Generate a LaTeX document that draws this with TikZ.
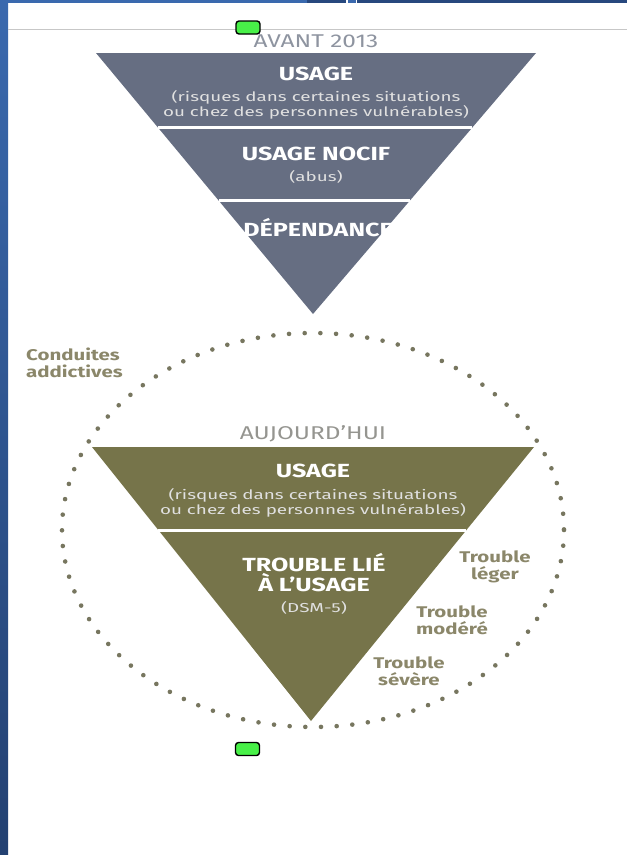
\documentclass[tikz,border=0pt]{standalone}
\usepackage{fontspec}
\setmainfont{Fira Sans}[FakeStretch=1.32]
\newfontfamily\notefont{Fira Sans}[FakeStretch=1.45]
\usetikzlibrary{calc,positioning}
\definecolor{slate}{HTML}{666E82}
\definecolor{khaki}{HTML}{76744A}
\definecolor{labelgrey}{HTML}{8B876A}
\definecolor{dotgrey}{HTML}{77765F}
\definecolor{eragrey}{HTML}{8E94A0}
\definecolor{todaygrey}{HTML}{959590}
\definecolor{frameblue}{HTML}{3A69AE}
\definecolor{framedark}{HTML}{27487E}
\definecolor{markergreen}{HTML}{48F048}
\tikzset{
    heading/.style = {
        font=\bfseries\fontsize{19}{20}\selectfont,
        text=white,
        inner sep=0pt,
        anchor=base,
        },
    note/.style = {
        font=\notefont\fontsize{13}{15}\selectfont,
        text=white!88!black,
        align=center,
        inner sep=0pt,
        anchor=base,
        },
    era/.style = {
        font=\fontsize{18.5}{20}\selectfont,
        inner sep=0pt,
        anchor=base,
        },
    side label/.style = {
        font=\bfseries\fontsize{15.5}{17}\selectfont,
        text=labelgrey,
        align=center,
        inner sep=0pt,
        anchor=base,
        },
    gap/.style = {
        draw=white,
        line width=3pt,
        },
    dots/.style = {
        draw=dotgrey,
        line width=4.6pt,
        line cap=round,
        dash pattern=on 0pt off 15.69pt,
        },
    marker/.style = {
        draw=black,
        line width=1.4pt,
        fill=markergreen,
        rounded corners=3pt,
        minimum width=24pt,
        minimum height=13pt,
        inner sep=0pt,
        },
}
\begin{document}
\begin{tikzpicture}[x=1pt,y=-1pt]
    \useasboundingbox (0,0) rectangle (627,855);
    % frame
    \shade[top color=frameblue, bottom color=framedark!90!black] (0,0) rectangle (8,855);
    \fill[frameblue] (0,0) rectangle (307,3);
    \fill[framedark] (307,0) rectangle (346,3);
    \fill[frameblue] (348,0) rectangle (356,3);
    \fill[framedark] (357,0) rectangle (627,3);
    \draw[black!22, line width=1pt] (8,29) -- (627,29);

    % avant 2013
    \coordinate (t1) at (96,53);
    \coordinate (t2) at (536,53);
    \coordinate (t3) at (313,314);
    \fill[slate] (t1) -- (t2) -- (t3) -- cycle;
    \draw[gap] ($(t1)!0.287!(t3)$) -- ($(t2)!0.287!(t3)$);
    \draw[gap] ($(t1)!0.567!(t3)$) -- ($(t2)!0.567!(t3)$);

    \node[era, text=eragrey] (avant) at (316,47) {AVANT 2013};
    \node[heading] (usage1) at (316,80) {USAGE};
    \node[note] (risk1) at (316,116) {(risques dans certaines situations\\ou chez des personnes vulnérables)};
    \node[heading] (nocif) at (316,160) {USAGE NOCIF};
    \node[note] (abus) at (316,181) {(abus)};
    \node[heading] (dep) at (318,236) {DÉPENDANCE};

    % aujourd'hui
    \draw[dots] (313,530) ellipse [x radius=251, y radius=197];
    \coordinate (b1) at (92,447);
    \coordinate (b2) at (534,447);
    \coordinate (b3) at (311,721);
    \fill[khaki] (b1) -- (b2) -- (b3) -- cycle;
    \draw[gap] ($(b1)!0.303!(b3)$) -- ($(b2)!0.303!(b3)$);

    \node[era, text=todaygrey] (today) at (313,439) {AUJOURD’HUI};
    \node[heading] (usage2) at (313,477) {USAGE};
    \node[note] (risk2) at (313,514) {(risques dans certaines situations\\ou chez des personnes vulnérables)};
    \node[heading, align=center] (trouble) at (314,591) {TROUBLE LIÉ\\À L’USAGE};
    \node[note] (dsm) at (314,612) {(DSM-5)};

    \node[side label] (leger) at (495,579) {Trouble\\léger};
    \node[side label] (modere) at (452,634) {Trouble\\modéré};
    \node[side label] (severe) at (409,685) {Trouble\\sévère};
    \node[side label, align=left, anchor=base west] (addict) at (26,377) {Conduites\\addictives};

    \node[marker] (top mark) at (248,27.5) {};
    \node[marker] (bottom mark) at (247.5,749) {};
\end{tikzpicture}
\end{document}
